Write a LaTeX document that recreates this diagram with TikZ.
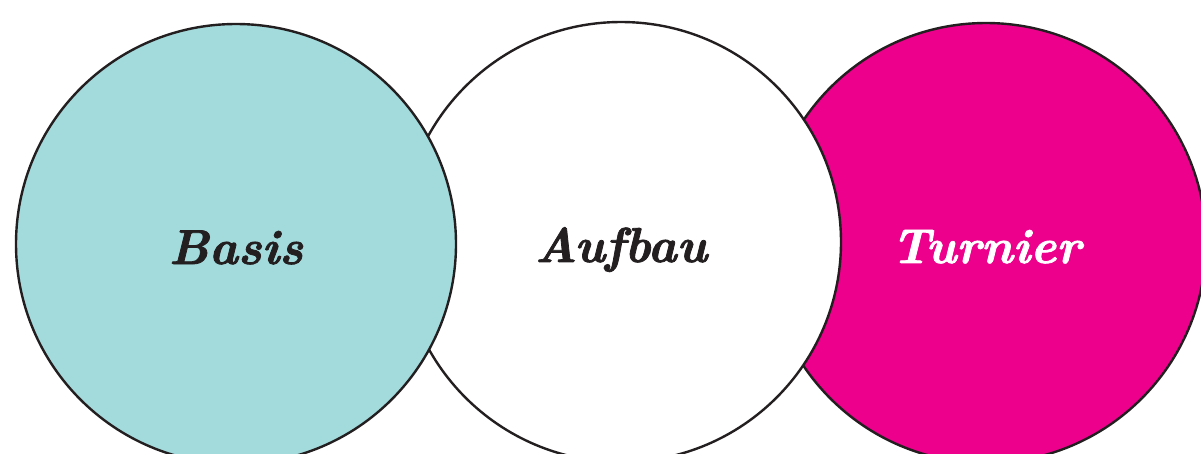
\documentclass[tikz,border=0pt]{standalone}
\usepackage{fontspec}
\newfontfamily\headfont{lmroman10-bolditalic.otf}[FakeBold=1.6]
\definecolor{tealfill}{HTML}{A3DADC}
\definecolor{magfill}{HTML}{EC008C}
\definecolor{outline}{HTML}{231F20}
\begin{document}
\begin{tikzpicture}[x=1pt,y=-1pt,
  ring/.style={circle, draw=outline, line width=2.4pt, minimum size=440pt, inner sep=0pt, outer sep=0pt,
    text height=40pt, text depth=0pt,
    font=\fontsize{49}{60}\selectfont\headfont}]
\useasboundingbox (0,0) rectangle (1201,453);
\clip (0,0) rectangle (1201,453);
\node[ring, fill=magfill, text=white] (turnier) at (986,243) {Turnier};
\node[ring, fill=white, text=outline] (aufbau) at (621,242) {Aufbau};
\node[ring, fill=tealfill, text=outline] (basis) at (236,244) {Basis};
\end{tikzpicture}
\end{document}
